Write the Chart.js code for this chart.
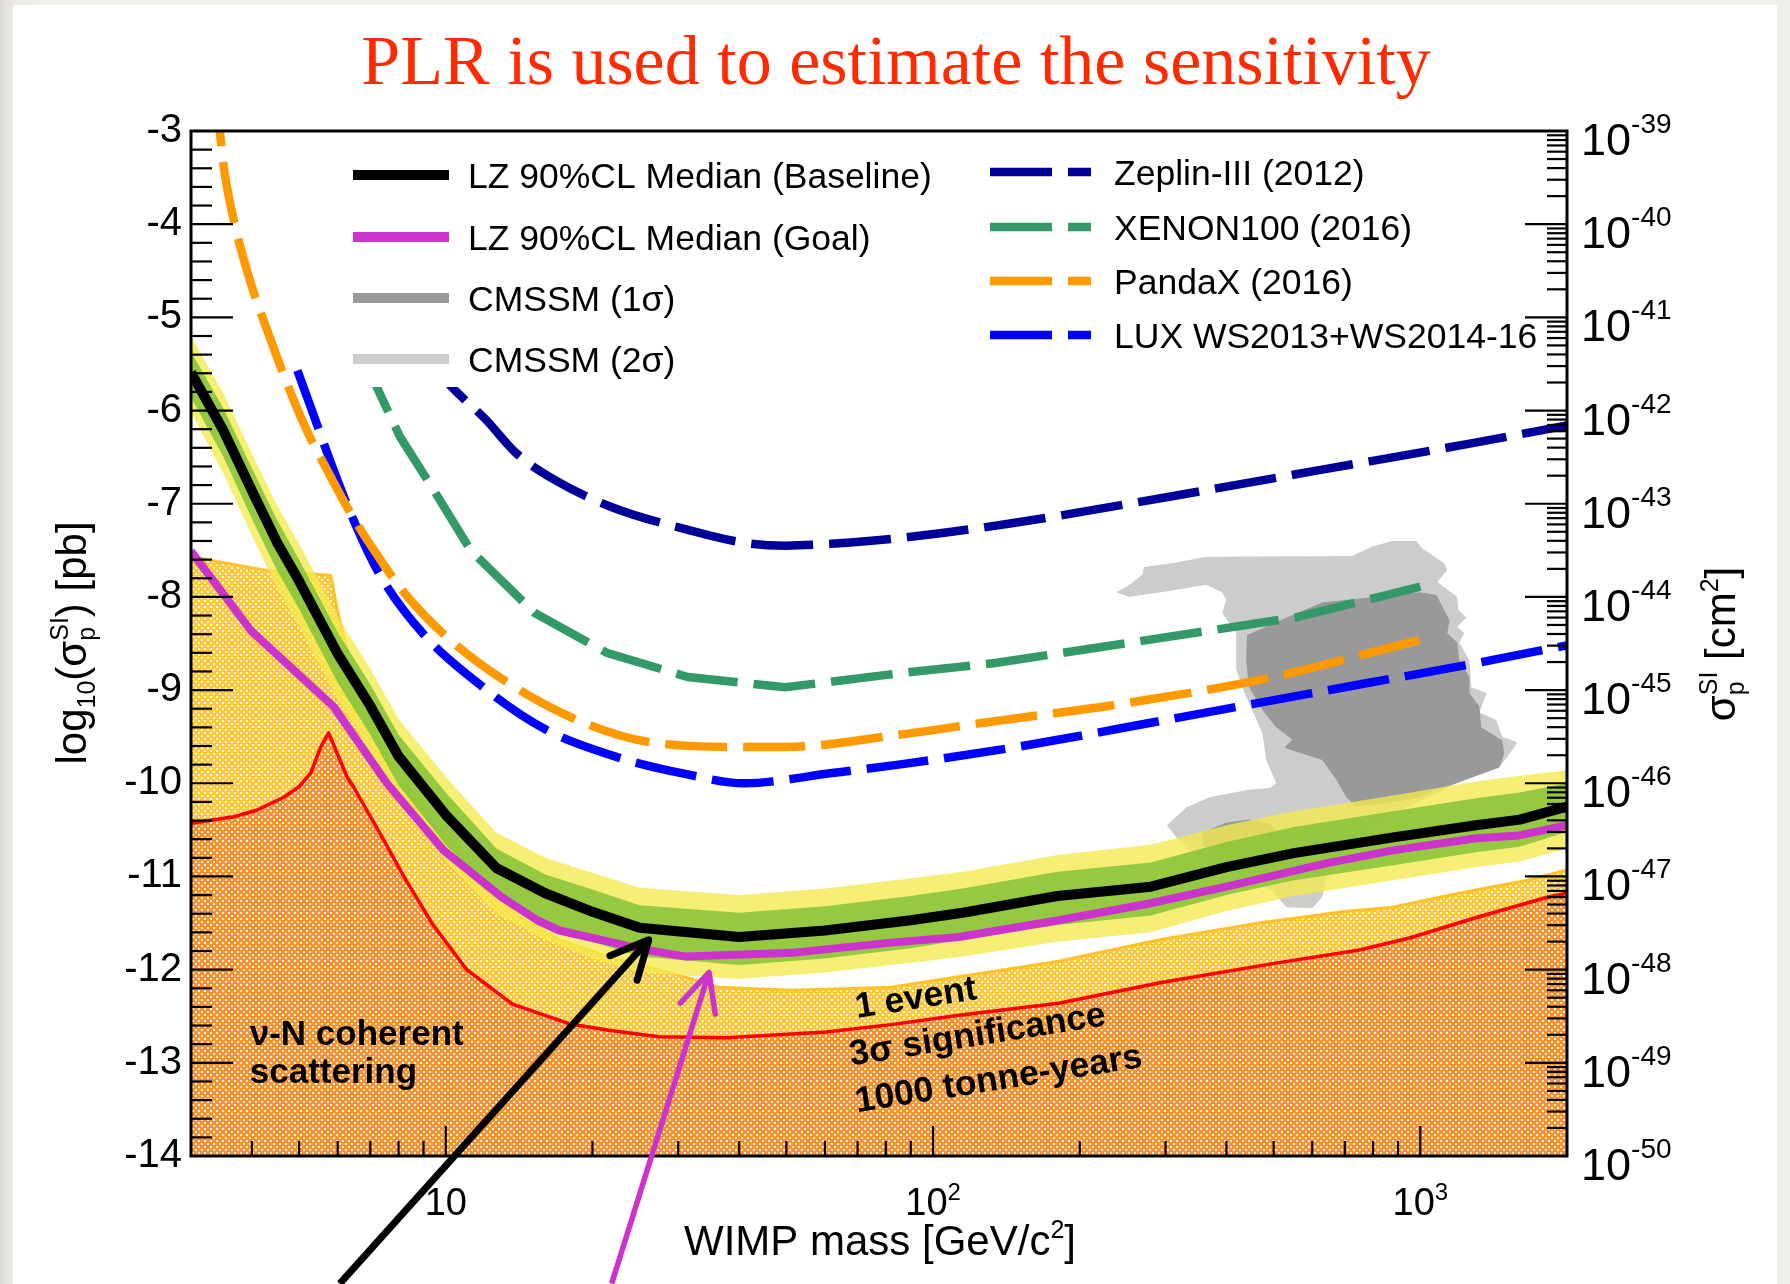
<!DOCTYPE html>
<html>
<head>
<meta charset="utf-8">
<title>LZ projected sensitivity</title>
<script src="https://cdn.jsdelivr.net/npm/chart.js@4.4.1/dist/chart.umd.min.js"></script>
<style>
  html, body { margin: 0; padding: 0; }
  body { width: 1790px; height: 1284px; overflow: hidden; position: relative;
         background: linear-gradient(to right, #dcd9d5 0px, #ebe9e6 13px, #efeeeb 40px); }
  #sheet { position: absolute; left: 13px; top: 5px; width: 1764px; height: 1279px; background: #ffffff; }
  #chart { position: absolute; left: 0; top: 0; }
</style>
</head>
<body>
<div id="sheet"></div>
<canvas id="chart" width="1790" height="1284"></canvas>
<script>
const FONT = '"Liberation Sans", Arimo, Arial, Helvetica, sans-serif';
const SERIF = '"Liberation Serif", "Times New Roman", serif';

// ---------- LZ projections: WIMP mass [GeV/c^2] vs log10(sigma_SI / pb) ----------
const massLZ    = [3, 3.5, 4, 4.5, 5, 6, 7, 8, 10, 12.7, 16, 20, 25, 40, 60, 90, 115, 180, 280, 400, 550, 880, 1300, 1600, 2000];
const lzMedian  = [-5.59, -6.22, -6.86, -7.41, -7.83, -8.61, -9.17, -9.71, -10.34, -10.91, -11.18, -11.38, -11.55, -11.65, -11.58, -11.47, -11.39, -11.21, -11.11, -10.90, -10.75, -10.58, -10.45, -10.39, -10.25];
const lzPlus1   = [-5.37, -5.98, -6.62, -7.17, -7.60, -8.38, -8.94, -9.48, -10.10, -10.70, -10.98, -11.14, -11.31, -11.39, -11.32, -11.21, -11.13, -10.95, -10.85, -10.63, -10.47, -10.30, -10.16, -10.10, -10.00];
const lzMinus1  = [-5.86, -6.50, -7.16, -7.71, -8.13, -8.92, -9.48, -10.02, -10.66, -11.22, -11.50, -11.70, -11.86, -11.95, -11.88, -11.77, -11.68, -11.52, -11.42, -11.20, -11.04, -10.88, -10.74, -10.68, -10.52];
const lzPlus2   = [-5.20, -5.82, -6.46, -7.01, -7.43, -8.21, -8.77, -9.31, -9.93, -10.53, -10.80, -10.96, -11.12, -11.20, -11.13, -11.02, -10.95, -10.77, -10.66, -10.45, -10.30, -10.13, -9.98, -9.92, -9.86];
const lzMinus2  = [-6.02, -6.68, -7.34, -7.90, -8.32, -9.10, -9.66, -10.20, -10.84, -11.40, -11.68, -11.88, -12.03, -12.10, -12.03, -11.93, -11.86, -11.70, -11.60, -11.37, -11.21, -11.04, -10.90, -10.84, -10.70];

const massGoal  = [3, 3.98, 5.89, 7.57, 9.9, 13, 15.4, 17.1, 25.8, 31.1, 51.3, 82, 113, 181, 278, 400, 640, 877, 1303, 1596, 2000];
const lzGoal    = [-7.51, -8.36, -9.18, -10.0, -10.72, -11.22, -11.47, -11.58, -11.79, -11.86, -11.82, -11.71, -11.65, -11.47, -11.29, -11.11, -10.86, -10.72, -10.59, -10.56, -10.45];

// ---------- existing limits ----------
const massZeplin = [9, 10.3, 12.1, 13.9, 16.8, 22, 31.4, 41.1, 49.7, 61.8, 85.1, 145, 301, 620, 1279, 2000];
const zeplin     = [-5.4, -5.75, -6.10, -6.45, -6.75, -7.04, -7.28, -7.42, -7.45, -7.43, -7.37, -7.21, -6.93, -6.64, -6.35, -6.16];
const massXenon  = [6.8, 7.22, 8.05, 9.36, 11.25, 15.2, 21.4, 31.4, 49.7, 85.1, 134, 262, 556, 1000];
const xenon100   = [-5.4, -5.75, -6.28, -6.82, -7.50, -8.17, -8.60, -8.86, -8.97, -8.82, -8.71, -8.48, -8.22, -7.89];
const massPandaX = [3.36, 3.44, 3.51, 3.70, 4.0, 4.35, 4.69, 5.15, 5.75, 6.44, 7.34, 8.2, 10.05, 13.4, 18.6, 26.3, 41.1, 49.7, 85.1, 127, 249, 488, 1000];
const pandaX     = [-2.5, -3.02, -3.42, -4.03, -4.67, -5.21, -5.67, -6.18, -6.67, -7.14, -7.60, -7.95, -8.43, -8.92, -9.32, -9.56, -9.61, -9.61, -9.48, -9.35, -9.14, -8.87, -8.46];
const massLUX    = [4.96, 5.33, 5.8, 6.4, 7.3, 9.0, 12.0, 16.0, 22.5, 31, 41, 62, 85, 145, 301, 603, 1243, 2000];
const lux        = [-5.57, -6.02, -6.55, -7.12, -7.75, -8.40, -8.98, -9.42, -9.72, -9.90, -10.0, -9.89, -9.80, -9.62, -9.32, -9.03, -8.73, -8.52];

// ---------- neutrino backgrounds ----------
const massEvent  = [3, 4.23, 5.81, 5.97, 6.27, 7, 8, 10, 12, 14, 17.1, 21.6, 31.1, 36.4, 51.3, 82, 181, 292, 466, 688, 877, 1200, 1660, 2000];
const oneEvent   = [-7.57, -7.71, -7.77, -8.11, -8.57, -9.35, -9.95, -10.6, -11.05, -11.42, -11.68, -11.86, -12.08, -12.19, -12.22, -12.19, -11.91, -11.68, -11.50, -11.38, -11.33, -11.18, -11.04, -10.93];
const massNu     = [3, 3.67, 4.09, 4.65, 4.99, 5.28, 5.54, 5.75, 6.27, 6.47, 7.46, 8.2, 9.39, 11.04, 13.7, 17.9, 21.6, 27.4, 37.6, 60.3, 82, 113, 181, 292, 505, 750, 950, 1303, 1830, 2000];
const nuFloor    = [-10.43, -10.36, -10.29, -10.15, -10.04, -9.89, -9.61, -9.46, -9.93, -10.04, -10.61, -11.0, -11.51, -12.0, -12.37, -12.58, -12.65, -12.72, -12.73, -12.67, -12.59, -12.49, -12.36, -12.14, -11.93, -11.79, -11.66, -11.44, -11.22, -11.18];

// ---------- CMSSM contours ----------
const massCmssm2 = [237.6, 252.6, 309.6, 363.6, 392, 400, 392, 419, 419, 439, 474, 483, 506, 490, 445, 369, 331, 302, 315.5, 335.5, 405, 497, 531, 600, 629, 650, 715, 863, 1079, 1164, 1279, 1452, 1545, 1582, 1473, 1432, 1322, 1367, 1273, 1261, 1202, 1231, 1191, 1243, 1197, 1191, 1084, 1136, 1120, 1009, 981, 876, 797, 725, 364, 310, 271, 269, 253];
const cmssm2     = [-7.95, -8.00, -7.93, -7.87, -7.95, -8.03, -8.17, -8.39, -8.78, -9.07, -9.46, -9.75, -10.0, -10.05, -10.07, -10.15, -10.26, -10.45, -10.58, -10.72, -10.93, -11.15, -11.33, -11.34, -11.22, -10.93, -10.61, -10.34, -10.11, -10.02, -9.93, -9.83, -9.64, -9.56, -9.50, -9.32, -9.24, -9.03, -8.97, -8.68, -8.49, -8.39, -8.32, -8.22, -8.14, -8.00, -7.84, -7.71, -7.64, -7.48, -7.40, -7.40, -7.46, -7.56, -7.57, -7.64, -7.68, -7.76, -7.87];
const massCmssm1 = [441, 538, 629, 995, 1079, 1148, 1136, 1191, 1202, 1261, 1261, 1322, 1334, 1473, 1487, 1452, 1186, 1079, 995, 863, 739, 705, 672, 629, 572, 526, 546, 506, 474, 445, 439];
const cmssm1     = [-8.41, -8.21, -8.06, -7.95, -7.98, -8.25, -8.39, -8.49, -8.68, -8.86, -9.03, -9.18, -9.40, -9.54, -9.68, -9.83, -10.0, -10.07, -10.15, -10.21, -10.25, -10.15, -9.96, -9.75, -9.68, -9.62, -9.53, -9.40, -9.21, -8.97, -8.68];
const massCmssm1b = [357, 400, 445, 490, 518, 509, 445, 387, 357];
const cmssm1b     = [-10.53, -10.42, -10.39, -10.43, -10.59, -10.77, -10.85, -10.79, -10.66];

// ---------- axis tick values ----------
const xMajor = [10, 100, 1000];
const xMinor = [4, 5, 6, 7, 8, 9, 20, 30, 40, 50, 60, 70, 80, 90, 200, 300, 400, 500, 600, 700, 800, 900];
const cmDecades = [-50, -49, -48, -47, -46, -45, -44, -43, -42, -41, -40, -39];

// ---------- annotation anchors (mass, log10 sigma) ----------
const nuLabel = { mass: 3.96, lines: [['ν-N coherent', -12.81], ['scattering', -13.22]] };
const eventLabel = [['1 event', 69.8, -12.52], ['3σ significance', 67.9, -13.03], ['1000 tonne-years', 69.8, -13.53]];
const arrowsData = [
  { from: [6.06, -15.37], to: [26.1, -11.68], color: '#000000', width: 7 },
  { from: [21.9, -15.37], to: [34.7, -12.03], color: '#cc33cc', width: 5.5 }
];

// ---------- helpers ----------
const pts = (xs, ys) => xs.map((x, i) => ({ x, y: ys[i] }));
const closed = (xs, ys) => { const p = pts(xs, ys); p.push({ x: xs[0], y: ys[0] }); return p; };

const canvas = document.getElementById('chart');
const ctx0 = canvas.getContext('2d');
function dotPattern(base) {
  const t = document.createElement('canvas');
  t.width = 6; t.height = 6;
  const g = t.getContext('2d');
  g.fillStyle = base; g.fillRect(0, 0, 6, 6);
  g.fillStyle = 'rgba(255,255,255,0.85)';
  g.fillRect(0, 0, 2, 2); g.fillRect(3, 3, 2, 2);
  return ctx0.createPattern(t, 'repeat');
}
const nuPattern = dotPattern('#f7922e');
const eventPattern = dotPattern('#ffc83a');

function fontOf(p) { return (p.bold ? 'bold ' : '') + p.size + 'px ' + (p.family || FONT); }
function measureRich(c, parts) {
  let w = 0;
  for (const p of parts) {
    let m = 0;
    for (const s of (p.stack || [p])) { c.font = fontOf(s); m = Math.max(m, c.measureText(s.t).width); }
    w += m;
  }
  return w;
}
function drawRich(c, parts, x, y) {
  c.textAlign = 'left'; c.textBaseline = 'alphabetic';
  for (const p of parts) {
    let m = 0;
    for (const s of (p.stack || [p])) {
      c.font = fontOf(s);
      c.fillText(s.t, x, y + (s.dy || 0));
      m = Math.max(m, c.measureText(s.t).width);
    }
    x += m;
  }
}

const base = { yAxisID: 'y', pointRadius: 0, pointHoverRadius: 0, tension: 0, clip: 0, fill: false, borderJoinStyle: 'round' };
const dashed = [62, 16];

const datasets = [
  { ...base, label: 'LZ 90%CL Median (Baseline)', data: pts(massLZ, lzMedian), borderColor: '#000000', borderWidth: 10, order: 1 },
  { ...base, label: 'LZ 90%CL Median (Goal)', data: pts(massGoal, lzGoal), borderColor: '#cc33cc', borderWidth: 8, order: 2 },
  { ...base, label: 'Zeplin-III (2012)', data: pts(massZeplin, zeplin), borderColor: '#000099', borderWidth: 8.5, borderDash: dashed, borderJoinStyle: 'miter', cubicInterpolationMode: 'monotone', order: 10 },
  { ...base, label: 'XENON100 (2016)', data: pts(massXenon, xenon100), borderColor: '#339966', borderWidth: 8.5, borderDash: dashed, borderJoinStyle: 'miter', order: 11 },
  { ...base, label: 'PandaX (2016)', data: pts(massPandaX, pandaX), borderColor: '#ff9900', borderWidth: 8.5, borderDash: dashed, borderJoinStyle: 'miter', cubicInterpolationMode: 'monotone', order: 12 },
  { ...base, label: 'LUX WS2013+WS2014-16', data: pts(massLUX, lux), borderColor: '#0000ff', borderWidth: 8.5, borderDash: dashed, borderJoinStyle: 'miter', cubicInterpolationMode: 'monotone', order: 13 },
  { ...base, label: '+1σ', data: pts(massLZ, lzPlus1), borderColor: 'rgba(0,0,0,0)', borderWidth: 1, fill: 7, backgroundColor: 'rgba(134,196,58,0.88)', order: 20 },
  { ...base, label: '-1σ', data: pts(massLZ, lzMinus1), borderColor: 'rgba(0,0,0,0)', borderWidth: 1, order: 21 },
  { ...base, label: '+2σ', data: pts(massLZ, lzPlus2), borderColor: 'rgba(0,0,0,0)', borderWidth: 1, fill: 9, backgroundColor: 'rgba(245,234,78,0.78)', order: 22 },
  { ...base, label: '-2σ', data: pts(massLZ, lzMinus2), borderColor: 'rgba(0,0,0,0)', borderWidth: 1, order: 23 },
  { ...base, label: 'CMSSM (1σ) b', data: closed(massCmssm1b, cmssm1b), borderColor: 'rgba(0,0,0,0)', borderWidth: 1, fill: 'shape', backgroundColor: '#999999', order: 30 },
  { ...base, label: 'CMSSM (1σ)', data: closed(massCmssm1, cmssm1), borderColor: 'rgba(0,0,0,0)', borderWidth: 1, fill: 'shape', backgroundColor: '#999999', order: 31 },
  { ...base, label: 'CMSSM (2σ)', data: closed(massCmssm2, cmssm2), borderColor: 'rgba(0,0,0,0)', borderWidth: 1, fill: 'shape', backgroundColor: '#cccccc', order: 32 },
  { ...base, label: 'ν-N coherent scattering', data: pts(massNu, nuFloor), borderColor: '#ff0000', borderWidth: 3.5, fill: 'start', backgroundColor: nuPattern, order: 40 },
  { ...base, label: '1 event, 3σ, 1000 tonne-years', data: pts(massEvent, oneEvent), borderColor: '#ffc328', borderWidth: 3, fill: 'start', backgroundColor: eventPattern, order: 41 }
];

const legendLeft  = [[0, '#000000', 10], [1, '#cc33cc', 10], [11, '#999999', 10], [12, '#cccccc', 10]];
const legendRight = [2, 3, 4, 5];

const decor = {
  id: 'decor',
  afterDatasetsDraw(chart) {
    const c = chart.ctx;
    const a = chart.chartArea;
    const sx = chart.scales.x, sy = chart.scales.y, sy2 = chart.scales.y2;
    const px = v => sx.getPixelForValue(v);
    const py = v => sy.getPixelForValue(v);
    const ds = chart.data.datasets;
    c.save();

    // legend panel (white, borderless) on top of the curves
    c.fillStyle = '#ffffff';
    c.fillRect(a.left + 139, a.top + 2, a.right - a.left - 146, 254);
    c.textAlign = 'left'; c.textBaseline = 'alphabetic';
    const rowsL = [175, 237, 298, 359];
    legendLeft.forEach(([i, col, w], k) => {
      const y = rowsL[k];
      c.strokeStyle = col; c.lineWidth = w; c.setLineDash([]);
      c.beginPath(); c.moveTo(353, y); c.lineTo(449, y); c.stroke();
      c.fillStyle = '#000'; c.font = '35.5px ' + FONT;
      c.fillText(ds[i].label, 468, y + 12.5);
    });
    const rowsR = [172, 227, 281, 335];
    legendRight.forEach((i, k) => {
      const y = rowsR[k];
      c.strokeStyle = ds[i].borderColor; c.lineWidth = 8.5; c.setLineDash(dashed);
      c.beginPath(); c.moveTo(990, y); c.lineTo(1091, y); c.stroke();
      c.setLineDash([]);
      c.fillStyle = '#000'; c.font = '35.5px ' + FONT;
      c.fillText(ds[i].label, 1114, y + 12.5);
    });

    // region labels
    c.fillStyle = '#000'; c.font = 'bold 35px ' + FONT;
    nuLabel.lines.forEach(([t, y]) => c.fillText(t, px(nuLabel.mass), py(y)));
    c.font = 'bold 35.5px ' + FONT;
    eventLabel.forEach(([t, m, y]) => {
      c.save(); c.translate(px(m), py(y)); c.rotate(-9 * Math.PI / 180);
      c.fillText(t, 0, 0); c.restore();
    });

    // inward tick marks
    c.strokeStyle = '#000'; c.lineWidth = 2.2; c.setLineDash([]);
    const tick = (x0, y0, x1, y1) => { c.beginPath(); c.moveTo(x0, y0); c.lineTo(x1, y1); c.stroke(); };
    for (let k = 0; k <= 55; k++) {
      const v = -14 + k * 0.2;
      const y = py(v);
      tick(a.left, y, a.left + (k % 5 === 0 ? 42 : 21), y);
    }
    xMajor.forEach(v => tick(px(v), a.bottom, px(v), a.bottom - 30));
    xMinor.forEach(v => tick(px(v), a.bottom, px(v), a.bottom - 15));
    cmDecades.forEach(n => {
      const y = sy2.getPixelForValue(Math.pow(10, n));
      tick(a.right, y, a.right - 42, y);
      if (n < -39) for (let k = 2; k <= 9; k++) {
        const yy = sy2.getPixelForValue(k * Math.pow(10, n));
        tick(a.right, yy, a.right - 20, yy);
      }
    });
    // frame
    c.lineWidth = 3;
    c.strokeRect(a.left, a.top, a.right - a.left, a.bottom - a.top);

    // x tick labels
    c.fillStyle = '#000';
    xMajor.forEach((v, i) => {
      const parts = i === 0 ? [{ t: '10', size: 38 }] : [{ t: '10', size: 38 }, { t: String(i + 1), size: 24, dy: -15 }];
      const w = measureRich(c, parts);
      drawRich(c, parts, px(v) - w / 2, a.bottom + 59);
    });
    // right-hand cross-section labels
    cmDecades.forEach(n => {
      const y = sy2.getPixelForValue(Math.pow(10, n));
      drawRich(c, [{ t: '10', size: 45 }, { t: String(n), size: 28, dy: -22 }], a.right + 14, y + 24);
    });

    // axis titles
    const xt = [{ t: 'WIMP mass [GeV/c', size: 42 }, { t: '2', size: 25, dy: -17 }, { t: ']', size: 42 }];
    const wx = measureRich(c, xt);
    drawRich(c, xt, 880 - wx / 2, a.bottom + 99);

    const yt = [{ t: 'log', size: 42 }, { t: '10', size: 25, dy: 9 }, { t: '(σ', size: 42 },
                { stack: [{ t: 'SI', size: 25, dy: -18 }, { t: 'p', size: 25, dy: 9 }] }, { t: ') [pb]', size: 42 }];
    const wy = measureRich(c, yt);
    c.save(); c.translate(71, 643); c.rotate(-Math.PI / 2);
    drawRich(c, yt, -wy / 2, 15); c.restore();

    const y2t = [{ t: 'σ', size: 42 }, { stack: [{ t: 'SI', size: 25, dy: -18 }, { t: 'p', size: 25, dy: 9 }] },
                 { t: ' [cm', size: 42 }, { t: '2', size: 25, dy: -17 }, { t: ']', size: 42 }];
    const wy2 = measureRich(c, y2t);
    c.save(); c.translate(1720, 644); c.rotate(-Math.PI / 2);
    drawRich(c, y2t, -wy2 / 2, 15); c.restore();

    // headline
    c.fillStyle = '#ff2a00'; c.font = '70px ' + SERIF; c.textAlign = 'center';
    c.fillText('PLR is used to estimate the sensitivity', 896, 84);

    // pointer arrows
    arrowsData.forEach(ar => {
      const x0 = px(ar.from[0]), y0 = py(ar.from[1]);
      const x1 = px(ar.to[0]), y1 = py(ar.to[1]);
      const ang = Math.atan2(y0 - y1, x0 - x1);
      c.strokeStyle = ar.color; c.lineWidth = ar.width; c.lineCap = 'butt'; c.lineJoin = 'round';
      c.beginPath(); c.moveTo(x0, y0); c.lineTo(x1, y1); c.stroke();
      c.lineCap = 'round';
      c.beginPath();
      c.moveTo(x1 + 42 * Math.cos(ang + 0.45), y1 + 42 * Math.sin(ang + 0.45));
      c.lineTo(x1, y1);
      c.lineTo(x1 + 42 * Math.cos(ang - 0.45), y1 + 42 * Math.sin(ang - 0.45));
      c.stroke();
    });
    c.restore();
  }
};

Chart.defaults.font.family = FONT;
new Chart(canvas, {
  type: 'line',
  data: { datasets },
  options: {
    responsive: false,
    animation: false,
    devicePixelRatio: 1,
    events: [],
    layout: { padding: { left: 0, right: 223, top: 131, bottom: 128 } },
    scales: {
      x: { type: 'logarithmic', min: 3, max: 2000, display: false },
      y: {
        type: 'linear', min: -14, max: -3, position: 'left',
        grid: { display: false, drawTicks: false },
        border: { display: false },
        ticks: { stepSize: 1, autoSkip: false, padding: 9, color: '#000', font: { family: FONT, size: 40 } },
        afterFit(s) { s.width = 191; }
      },
      y2: { type: 'logarithmic', min: 1e-50, max: 1e-39, position: 'right', display: false }
    },
    plugins: { legend: { display: false }, tooltip: { enabled: false }, title: { display: false } }
  },
  plugins: [decor]
});
</script>
</body>
</html>
